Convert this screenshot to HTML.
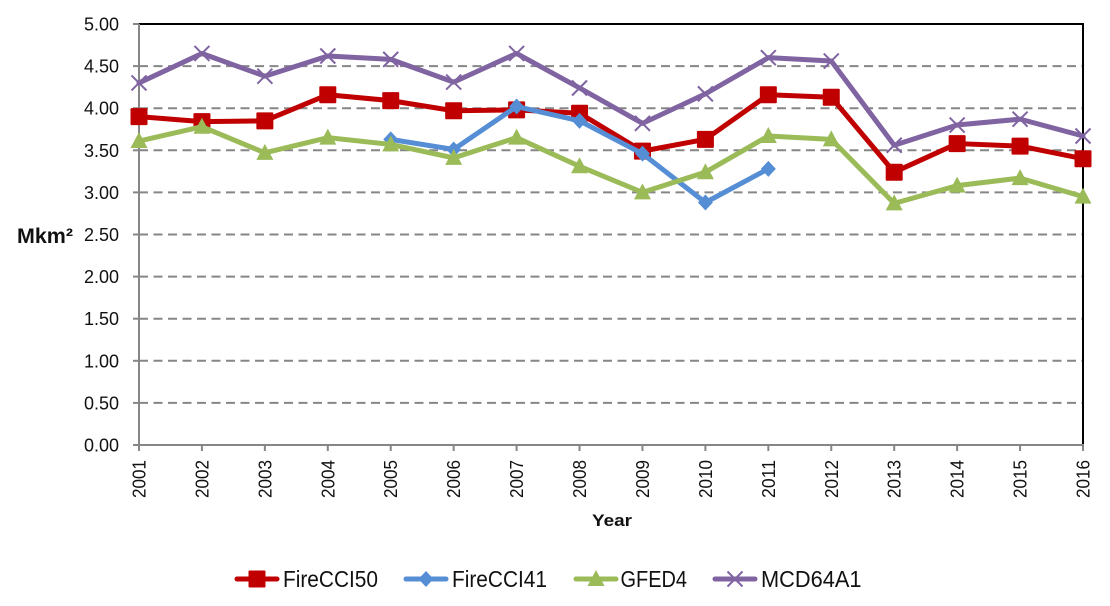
<!DOCTYPE html>
<html lang="en">
<head>
<meta charset="utf-8">
<title>Burned area 2001-2016</title>
<style>
html,body{margin:0;padding:0;background:#fff}
svg{display:block}
text{font-family:"Liberation Sans",sans-serif;fill:#111}
</style>
</head>
<body>
<svg id="chart" xmlns="http://www.w3.org/2000/svg" width="1110" height="606" viewBox="0 0 1110 606"></svg>
<script>
const years = ["2001","2002","2003","2004","2005","2006","2007","2008","2009","2010","2011","2012","2013","2014","2015","2016"];
const yTickValues = [0, 0.5, 1, 1.5, 2, 2.5, 3, 3.5, 4, 4.5, 5];
const fireCCI50 = [3.90,3.84,3.85,4.16,4.09,3.97,3.98,3.94,3.49,3.63,4.16,4.13,3.24,3.58,3.55,3.40];
const fireCCI41 = [null,null,null,null,3.63,3.51,4.02,3.85,3.46,2.88,3.28,null,null,null,null,null];
const gfed4 = [3.61,3.78,3.47,3.65,3.57,3.41,3.65,3.31,3.00,3.24,3.67,3.63,2.87,3.08,3.17,2.95];
const mcd64a1 = [4.30,4.65,4.38,4.62,4.58,4.31,4.65,4.24,3.82,4.17,4.60,4.56,3.56,3.80,3.87,3.67];
const seriesNames = ["FireCCI50","FireCCI41","GFED4","MCD64A1"];

const svg = document.getElementById('chart');
const NS = 'http://www.w3.org/2000/svg';
const plotLeft = 139, plotRight = 1083, plotTop = 24, plotBottom = 445;
const yMax = 5;
function xAt(i){ return plotLeft + (plotRight - plotLeft) * i / (years.length - 1); }
function yAt(v){ return plotBottom - (plotBottom - plotTop) * v / yMax; }
function make(tag, attrs, parent){
  const el = document.createElementNS(NS, tag);
  for (const k in attrs) el.setAttribute(k, attrs[k]);
  (parent || svg).appendChild(el);
  return el;
}
function drawMarker(kind, x, y, color, parent){
  let m;
  if (kind === 'square') {
    m = make('rect', {x: x-8.5, y: y-8.5, width: 17, height: 17, rx: 1, fill: color}, parent);
  } else if (kind === 'diamond') {
    m = make('polygon', {points: `${x},${y-8} ${x+7.5},${y} ${x},${y+8} ${x-7.5},${y}`, fill: color}, parent);
  } else if (kind === 'triangle') {
    m = make('polygon', {points: `${x},${y-9} ${x+8.5},${y+7} ${x-8.5},${y+7}`, fill: color}, parent);
  } else {
    m = make('path', {d: `M${x-7.5},${y-7.5}L${x+7.5},${y+7.5}M${x+7.5},${y-7.5}L${x-7.5},${y+7.5}`, stroke: color, 'stroke-width': 2, fill: 'none'}, parent);
  }
  return m;
}

// gridlines
yTickValues.forEach(v => {
  if (v === 0 || v === yMax) return;
  const g = make('line', {x1: plotLeft, x2: plotRight, y1: yAt(v), y2: yAt(v), stroke: '#868686', 'stroke-width': 2, 'stroke-dasharray': '9 5.5'});
  
  
});

// plot frame: top and right black, left and bottom gray
const frameTop = make('line', {x1: plotLeft, x2: plotRight + 1, y1: plotTop, y2: plotTop, stroke: '#000', 'stroke-width': 2});


const frameRight = make('line', {x1: plotRight, x2: plotRight, y1: plotTop, y2: plotBottom, stroke: '#000', 'stroke-width': 2});


const yAxisLine = make('line', {x1: plotLeft, x2: plotLeft, y1: plotTop, y2: plotBottom + 1, stroke: '#868686', 'stroke-width': 2});


const xAxisLine = make('line', {x1: plotLeft - 6, x2: plotRight + 1, y1: plotBottom, y2: plotBottom, stroke: '#868686', 'stroke-width': 2});



// y ticks and labels
yTickValues.forEach(v => {
  const t = make('line', {x1: plotLeft - 6, x2: plotLeft, y1: yAt(v), y2: yAt(v), stroke: '#868686', 'stroke-width': 2});
  
  
  const l = make('text', {x: 119, y: yAt(v) + 6.5, 'text-anchor': 'end', 'font-size': 18});
  l.textContent = v.toFixed(2);
  
  
});

// x ticks and labels
years.forEach((yr, i) => {
  const x = xAt(i);
  const t = make('line', {x1: x, x2: x, y1: plotBottom, y2: plotBottom + 6, stroke: '#868686', 'stroke-width': 2});
  
  
  const l = make('text', {transform: `translate(${x + 6.5},498) rotate(-90)`, 'font-size': 18, textLength: 38, lengthAdjust: 'spacingAndGlyphs'});
  l.textContent = yr;
  
  
});

// axis titles
const yTitle = make('text', {x: 17, y: 243, 'font-size': 21, 'font-weight': 'bold', textLength: 56, lengthAdjust: 'spacingAndGlyphs'});
yTitle.textContent = 'Mkm²';


const xTitle = make('text', {x: 592, y: 526, 'font-size': 17, 'font-weight': 'bold', textLength: 40, lengthAdjust: 'spacingAndGlyphs'});
xTitle.textContent = 'Year';



// series
const seriesList = [
  {values: fireCCI50, color: '#C00000', marker: 'square', width: 5},
  {values: fireCCI41, color: '#558ED5', marker: 'diamond', width: 5},
  {values: gfed4, color: '#9BBB59', marker: 'triangle', width: 5},
  {values: mcd64a1, color: '#8064A2', marker: 'cross', width: 5}
];
seriesList.forEach((s, si) => {
  const g = make('g', {});
  
  
  const pts = [];
  s.values.forEach((v, i) => { if (v !== null) pts.push([xAt(i), yAt(v)]); });
  const line = make('polyline', {points: pts.map(p => p.join(',')).join(' '), fill: 'none', stroke: s.color, 'stroke-width': s.width, 'stroke-linejoin': 'round', 'stroke-linecap': 'round'}, g);
  
  
  pts.forEach(p => {
    const m = drawMarker(s.marker, p[0], p[1], s.color, g);
    
    
  });
});

// legend
const legendLineStart = [237, 406, 576, 715];
const legendTextStart = [283, 452, 620.5, 761];
const legendTextWidth = [95, 95, 66.5, 100.5];
seriesList.forEach((s, si) => {
  const g = make('g', {});
  
  
  const x0 = legendLineStart[si], cy = 579;
  make('line', {x1: x0, x2: x0 + 40, y1: cy, y2: cy, stroke: s.color, 'stroke-width': 5, 'stroke-linecap': 'round'}, g);
  drawMarker(s.marker, x0 + 20, cy, s.color, g);
  const t = make('text', {x: legendTextStart[si], y: cy + 8, 'font-size': 23, textLength: legendTextWidth[si], lengthAdjust: 'spacingAndGlyphs'}, g);
  t.textContent = seriesNames[si];
  
  
});
</script>
</body>
</html>
